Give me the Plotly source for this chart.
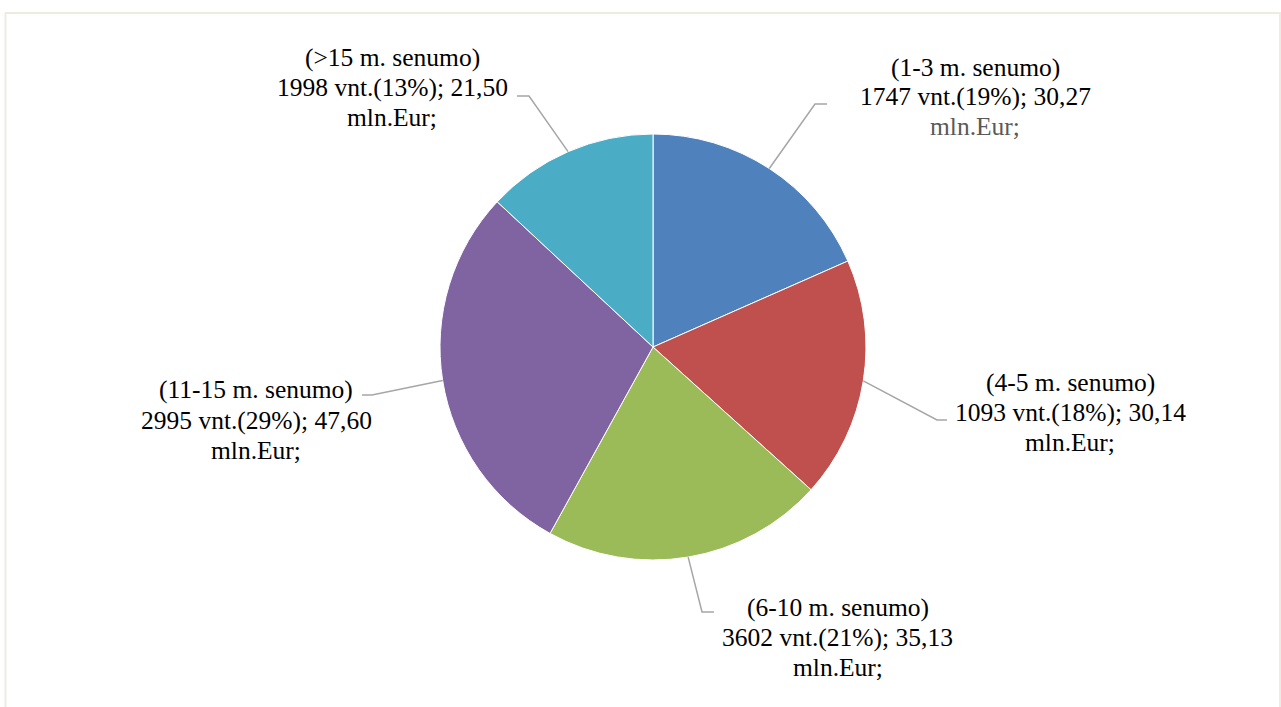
import math
import plotly.graph_objects as go

# ---- data ----
categories = ["(1-3 m. senumo)", "(4-5 m. senumo)", "(6-10 m. senumo)",
              "(11-15 m. senumo)", "(>15 m. senumo)"]
counts = [1747, 1093, 3602, 2995, 1998]
pct_labels = ["19%", "18%", "21%", "29%", "13%"]
amounts = [30.27, 30.14, 35.13, 47.60, 21.50]  # mln Eur
colors = ["#4F81BD", "#C0504D", "#9BBB59", "#8064A2", "#4BACC6"]

# ---- layout constants (pixels) ----
W, H = 1281, 707
CX, CY, R = 653, 347, 213
LINE_GAP = 30
label_pos = [(975, 97), (1070, 412), (838, 637), (256, 420), (392, 88)]
elbows = [((815, 104), (827, 104)), ((937, 420), (947, 420)), ((702, 612), (714, 612)),
          ((372, 395), (362, 395)), ((529, 96), (517, 96))]
FONT = "Times New Roman, Liberation Serif, Times, serif"
FSIZE = 25.5

def px(x):
    return x / W

def py(y):
    return 1 - y / H

fig = go.Figure(go.Pie(
    labels=categories, values=amounts, sort=False, direction="clockwise", rotation=0,
    marker=dict(colors=colors, line=dict(color="white", width=1)),
    textinfo="none", hoverinfo="label+value", showlegend=False,
    domain=dict(x=[px(CX - R), px(CX + R)], y=[py(CY + R), py(CY - R)]),
))

total = sum(amounts)
cum = 0.0
shapes = []
annotations = []
for i, cat in enumerate(categories):
    frac = amounts[i] / total
    mid = (cum + frac / 2) * 2 * math.pi
    cum += frac
    ex, ey = CX + R * math.sin(mid), CY - R * math.cos(mid)
    (bx, by), (hx, hy) = elbows[i]
    path = f"M {px(ex)} {py(ey)} L {px(bx)} {py(by)} L {px(hx)} {py(hy)}"
    shapes.append(dict(type="path", xref="paper", yref="paper", path=path,
                       line=dict(color="#A6A6A6", width=1.5)))
    amt = f"{amounts[i]:.2f}".replace(".", ",")
    lines = [(cat, "black"),
             (f"{counts[i]} vnt.({pct_labels[i]}); {amt}", "black"),
             ("mln.Eur;", "#595959" if i == 0 else "black")]
    lx, ly = label_pos[i]
    for k, (txt, col) in enumerate(lines):
        annotations.append(dict(x=px(lx), y=py(ly + (k - 1) * LINE_GAP),
                                xref="paper", yref="paper",
                                text=txt, showarrow=False, xanchor="center", yanchor="middle",
                                align="center",
                                font=dict(family=FONT, size=FSIZE, color=col)))

shapes.append(dict(type="rect", xref="paper", yref="paper",
                   x0=px(5.5), y0=py(720), x1=px(1280), y1=py(13),
                   line=dict(color="#EEEBE0", width=2), fillcolor="rgba(0,0,0,0)"))

fig.update_layout(width=W, height=H, margin=dict(l=0, r=0, t=0, b=0),
                  paper_bgcolor="white", plot_bgcolor="white",
                  font=dict(family=FONT),
                  shapes=shapes, annotations=annotations)

fig.write_html("out.html", config={"displayModeBar": False},
               post_script="document.body.style.margin='0';document.body.style.overflow='hidden';")
